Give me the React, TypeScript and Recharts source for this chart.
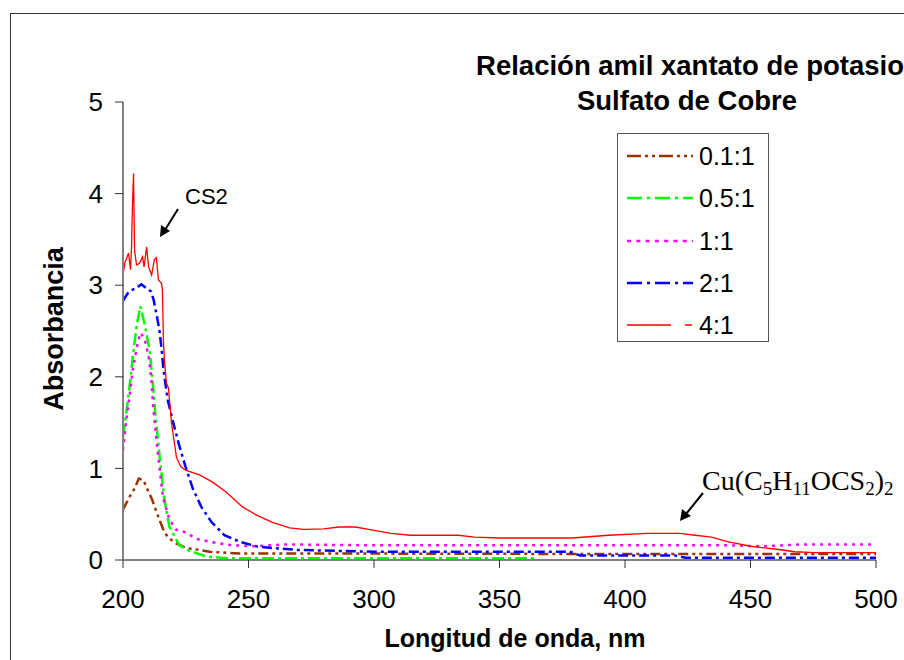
import React from 'react';
import { LineChart, Line, XAxis, YAxis } from 'recharts';

// Absorbance spectra: [wavelength nm, absorbance]
const ratio01 = [
  [200, 0.55], [202.6, 0.69], [204.6, 0.78], [206.3, 0.89], [208.2, 0.87], [209.9, 0.76],
  [211.6, 0.66], [213, 0.55], [214.5, 0.44], [216.1, 0.33], [217.8, 0.25], [221.2, 0.18],
  [225.2, 0.13], [230.5, 0.11], [234.5, 0.09], [246.4, 0.07], [300, 0.07], [400, 0.065], [500, 0.065],
];
const ratio05 = [
  [200, 1.35], [201.3, 1.6], [202.6, 1.89], [203.9, 2.22], [205.5, 2.57], [206.9, 2.77],
  [208.6, 2.58], [210.6, 2.29], [211.9, 1.93], [213, 1.56], [214.6, 1.13], [216.5, 0.66],
  [218.5, 0.36], [222.5, 0.16], [226.5, 0.1], [233, 0.04], [241, 0.02], [300, 0.02], [365, 0.02],
];
const ratio1 = [
  [200, 1.2], [201.3, 1.53], [202.6, 1.78], [203.9, 2.08], [205.5, 2.32], [206.9, 2.48],
  [208.6, 2.42], [210.3, 2.2], [211.2, 2.0], [212.2, 1.62], [213.9, 1.16], [215.9, 0.69],
  [218.5, 0.44], [221.2, 0.33], [225.2, 0.3], [229.2, 0.23], [236.5, 0.19], [243.7, 0.16],
  [253.1, 0.15], [265, 0.17], [300, 0.16], [350, 0.16], [400, 0.16], [440, 0.16], [455, 0.15],
  [470, 0.17], [500, 0.17],
];
const ratio2 = [
  [200, 2.83], [202.3, 2.93], [205.3, 2.97], [207.3, 3.01], [209.2, 2.97], [211.2, 2.93],
  [212.2, 2.84], [213.5, 2.66], [214.5, 2.51], [215.4, 2.3], [216.1, 2.08], [217.8, 1.75],
  [220.1, 1.49], [222.5, 1.24], [224.9, 1.02], [227.8, 0.78], [231.2, 0.58], [235.1, 0.42],
  [240.4, 0.27], [246.4, 0.2], [253.1, 0.15], [259.7, 0.13], [269.5, 0.11], [300, 0.09],
  [340, 0.09], [378, 0.09], [382, 0.05], [420, 0.05], [424, 0.025], [500, 0.025],
];
const ratio4 = [
  [200, 3.12], [200.8, 3.25], [202.2, 3.35], [203, 3.17], [203.4, 3.42], [203.8, 3.9],
  [204.2, 4.22], [204.6, 3.38], [205.4, 3.22], [206.6, 3.24], [207.8, 3.31], [208.4, 3.2],
  [209.4, 3.42], [210.2, 3.2], [211.4, 3.11], [212.5, 3.28], [213.3, 3.3], [214.1, 3.06],
  [215.3, 3.02], [215.7, 2.95], [216.1, 2.4], [216.5, 2.18], [217.3, 1.93], [218.1, 1.88],
  [218.9, 1.64], [219.3, 1.5], [221.3, 1.12], [223, 1.02], [224.9, 0.98], [230.5, 0.93],
  [235.7, 0.85], [241.2, 0.74], [247.6, 0.58], [253.2, 0.49], [259.6, 0.41], [266.3, 0.35],
  [272, 0.335], [280, 0.34], [286, 0.36], [292.6, 0.36], [299, 0.33], [306.8, 0.29],
  [314.7, 0.27], [333.6, 0.27], [340, 0.25], [350, 0.24], [379, 0.24], [393.5, 0.27],
  [409, 0.29], [422, 0.29], [428, 0.27], [434.5, 0.25], [440.8, 0.2], [450, 0.15],
  [459.7, 0.12], [467.6, 0.09], [475.5, 0.08], [500, 0.08],
];

const xTicks = [200, 250, 300, 350, 400, 450, 500];
const yTicks = [0, 1, 2, 3, 4, 5];

const toPoints = (pairs: number[][]) => pairs.map(([nm, a]) => ({ nm, a }));

const SERIES = [
  { name: '0.1:1', data: ratio01, color: '#993300', width: 2.5, dash: '10 4 3 4 3 4', legendDash: '14 4 3 4 3 4' },
  { name: '0.5:1', data: ratio05, color: '#00ff00', width: 2.5, dash: '12 4 3 4', legendDash: '15 5 3 5' },
  { name: '1:1', data: ratio1, color: '#ff00ff', width: 2.5, dash: '3 5', legendDash: '4 5.3' },
  { name: '2:1', data: ratio2, color: '#0000ff', width: 2.5, dash: '10 4 3 4', legendDash: '15 5 3 5' },
  { name: '4:1', data: ratio4, color: '#ff0000', width: 1.3, dash: undefined, legendDash: '44 14 7' },
];

const SANS = "'Liberation Sans', Arial, sans-serif";
const SERIF = "'Liberation Serif', 'Times New Roman', serif";

function Legendbox() {
  return (
    <div
      style={{
        position: 'absolute', left: 617, top: 133, width: 150, height: 207,
        border: '1.5px solid #555', background: '#fff', boxSizing: 'content-box',
      }}
    >
      {SERIES.map((s, i) => (
        <div key={s.name} style={{ position: 'absolute', left: 9, top: 9 + i * 42.3, height: 26, display: 'flex', alignItems: 'center' }}>
          <svg width={66} height={10}>
            <line x1={0} y1={5} x2={66} y2={5} stroke={s.color} strokeWidth={s.width} strokeDasharray={s.legendDash} />
          </svg>
          <span style={{ fontFamily: SANS, fontSize: 25, marginLeft: 6, lineHeight: '26px' }}>{s.name}</span>
        </div>
      ))}
    </div>
  );
}

export default function App() {
  return (
    <div style={{ position: 'absolute', left: 0, top: 0, width: 904, height: 660, overflow: 'hidden', background: '#fff' }}>
      <div style={{ position: 'absolute', left: 10, top: 13, width: 920, height: 700, border: '1.5px solid #333' }} />
      <div style={{ position: 'absolute', left: 0, top: 0 }}>
        <LineChart width={904} height={660} margin={{ top: 102, right: 28, left: 63, bottom: 70 }}>
          <XAxis
            dataKey="nm"
            type="number"
            domain={[200, 500]}
            ticks={xTicks}
            allowDataOverflow
            height={30}
            tickSize={8}
            tickMargin={22}
            axisLine={{ stroke: '#808080', strokeWidth: 2 }}
            tickLine={{ stroke: '#333' }}
            tick={{ fill: '#000', fontSize: 26, fontFamily: SANS }}
          />
          <YAxis
            type="number"
            domain={[0, 5]}
            ticks={yTicks}
            width={60}
            tickSize={8}
            tickMargin={12}
            axisLine={{ stroke: '#808080', strokeWidth: 2 }}
            tickLine={{ stroke: '#333' }}
            tick={{ fill: '#000', fontSize: 26, fontFamily: SANS }}
          />
          {SERIES.map((s) => (
            <Line
              key={s.name}
              data={toPoints(s.data)}
              dataKey="a"
              name={s.name}
              type="linear"
              stroke={s.color}
              strokeWidth={s.width}
              strokeDasharray={s.dash}
              dot={false}
              activeDot={false}
              isAnimationActive={false}
            />
          ))}
        </LineChart>
      </div>
      <svg width={904} height={660} style={{ position: 'absolute', left: 0, top: 0, pointerEvents: 'none' }}>
        <text x={690} y={75} textAnchor="middle" fontFamily={SANS} fontSize={27.5} fontWeight="bold">
          Relación amil xantato de potasio
        </text>
        <text x={687} y={110} textAnchor="middle" fontFamily={SANS} fontSize={27.5} fontWeight="bold">
          Sulfato de Cobre
        </text>
        <text x={63} y={329} transform="rotate(-90 63 329)" textAnchor="middle" fontFamily={SANS} fontSize={27} fontWeight="bold">
          Absorbancia
        </text>
        <text x={515} y={647} textAnchor="middle" fontFamily={SANS} fontSize={25} fontWeight="bold">
          Longitud de onda, nm
        </text>
        <text x={185} y={204} fontFamily={SANS} fontSize={22}>CS2</text>
        <line x1={178} y1={209} x2={165} y2={230} stroke="#000" strokeWidth={2} />
        <polygon points="160,237 161,225 170,231" fill="#000" />
        <text x={702} y={490} fontFamily={SERIF} fontSize={28}>
          Cu(C<tspan fontSize={19} dy={5}>5</tspan><tspan dy={-5}>H</tspan><tspan fontSize={19} dy={5}>11</tspan><tspan dy={-5}>OCS</tspan><tspan fontSize={19} dy={5}>2</tspan><tspan dy={-5}>)</tspan><tspan fontSize={19} dy={5}>2</tspan>
        </text>
        <line x1={703} y1={493} x2={686} y2={514} stroke="#000" strokeWidth={2} />
        <polygon points="680,521 682,509 691,516" fill="#000" />
      </svg>
      <Legendbox />
    </div>
  );
}
